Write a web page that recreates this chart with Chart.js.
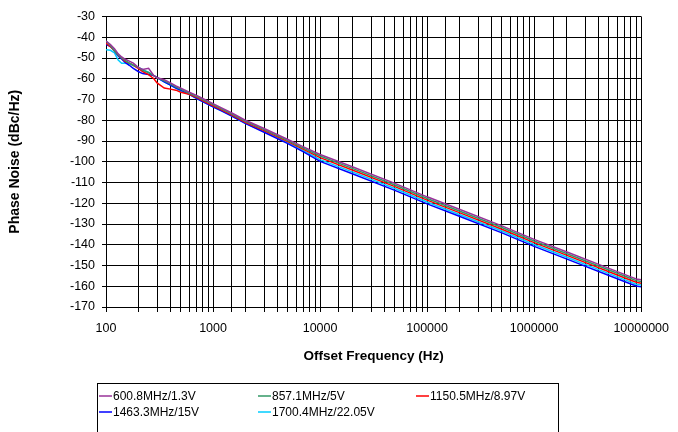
<!DOCTYPE html>
<html>
<head>
<meta charset="utf-8">
<script src="https://cdn.jsdelivr.net/npm/chart.js@4.4.1/dist/chart.umd.min.js"></script>
<style>
  html, body { margin: 0; padding: 0; background: #fff; }
  #wrap { width: 678px; height: 432px; }
</style>
</head>
<body>
<div id="wrap"><canvas id="pnChart" width="678" height="432"></canvas></div>
<script>
// offset frequency (Hz)
const freqs = [100, 110, 120, 130, 140, 150, 165, 180, 200, 220, 250, 280, 300, 350, 400, 450, 500, 600, 700, 800,
  1000, 1200, 1500, 2000, 3000, 5000, 7000, 10000, 20000, 50000, 100000, 200000, 500000,
  1000000, 2000000, 5000000, 8000000, 9000000, 10000000];

// phase noise (dBc/Hz)
const pn600 = [-41.8, -43.5, -45.5, -48, -49.5, -50.5, -51.5, -52.5, -54.5, -55.5, -55, -58.5, -59.5, -60.5, -62, -63.5, -64.5, -66.5, -68, -69.5,
  -72, -74, -76.5, -80, -84, -89.3, -92.8, -96.5, -102.4, -110.4, -116.9, -122.9, -130.9,
  -137.4, -143.4, -151.4, -155.5, -156.5, -156.9];
const pn857 = [-41.8, -44, -46.5, -48.5, -50, -51, -52.5, -53.5, -54.5, -56, -57, -58.5, -59.5, -61, -62.5, -64, -65, -67, -68.5, -70,
  -72.5, -74.5, -77, -80.5, -84.5, -89.8, -93.4, -97.2, -103.2, -111.2, -117.7, -123.7, -131.7,
  -138.2, -144.2, -152.2, -156.3, -157.3, -157.7];
const pn1150 = [-42.8, -44.5, -46.5, -48.5, -50, -51.5, -52.5, -53.5, -55, -56.5, -58, -60, -62, -64.5, -65, -65.5, -66.5, -67.5, -69, -70.5,
  -73, -75, -77.5, -81, -85, -90.3, -94, -98, -104, -112, -118.5, -124.5, -132.5,
  -139, -145, -153, -157.1, -158.1, -158.5];
const pn1463 = [-43.5, -44.5, -46.5, -49, -50.5, -52, -53.5, -55, -56.5, -57.5, -58, -58.5, -59.5, -61.5, -63, -64.5, -65.5, -67.5, -69.5, -71,
  -73.5, -75.5, -78, -81.5, -85.8, -91.3, -95.2, -99.8, -105.8, -113.8, -120.3, -126.3, -134.3,
  -140.8, -146.8, -154.8, -158.9, -159.9, -160.3];
const pn1700 = [-46, -46.3, -47.5, -51, -52.5, -52.5, -52.8, -53.5, -54.5, -55.5, -57, -58.5, -59.5, -61.5, -63, -64.5, -66, -67.5, -69.5, -71,
  -73.5, -75.5, -78, -81.5, -85.5, -90.8, -94.6, -99, -104.9, -112.9, -119.4, -125.4, -133.4,
  -139.9, -145.9, -153.9, -158, -159, -159.4];

const seriesLabels = ['600.8MHz/1.3V', '857.1MHz/5V', '1150.5MHz/8.97V', '1463.3MHz/15V', '1700.4MHz/22.05V'];
const seriesColors = ['#993399', '#339966', '#ff0000', '#0000ff', '#00ccff'];
const seriesValues = [pn600, pn857, pn1150, pn1463, pn1700];

const yMin = -170, yMax = -30, yStep = 10;
const xMin = 100, xMax = 10000000;

const FONT = "'Liberation Sans', Arial, sans-serif";

function toPoints(vals) {
  return freqs.map((f, i) => ({ x: f, y: vals[i] }));
}

// legend in a box below the chart, like the spreadsheet one
const boxLegend = {
  id: 'boxLegend',
  afterDraw(chart) {
    const ctx = chart.ctx;
    const cols = [99, 258, 416];
    const rows = [396, 412];
    ctx.save();
    ctx.strokeStyle = '#000';
    ctx.lineWidth = 1;
    ctx.strokeRect(97.5, 383.5, 461, 60);
    ctx.font = '12px ' + FONT;
    ctx.textBaseline = 'middle';
    ctx.fillStyle = '#000';
    chart.data.datasets.forEach((ds, i) => {
      const x = cols[i % 3];
      const y = rows[Math.floor(i / 3)];
      ctx.strokeStyle = ds.borderColor;
      ctx.lineWidth = 1.5;
      ctx.beginPath();
      ctx.moveTo(x, y);
      ctx.lineTo(x + 13, y);
      ctx.stroke();
      ctx.fillText(ds.label, x + 14, y + 0.5);
    });
    ctx.restore();
  }
};

new Chart(document.getElementById('pnChart').getContext('2d'), {
  type: 'line',
  data: {
    datasets: seriesValues.map((vals, i) => ({
      label: seriesLabels[i],
      data: toPoints(vals),
      borderColor: seriesColors[i],
      backgroundColor: seriesColors[i],
      borderWidth: 1.5,
      pointRadius: 0,
      tension: 0,
      fill: false
    }))
  },
  options: {
    responsive: false,
    animation: false,
    layout: { padding: { top: 16.5, right: 34, bottom: 65, left: 0 } },
    plugins: { legend: { display: false }, tooltip: { enabled: false } },
    scales: {
      x: {
        type: 'logarithmic',
        min: xMin,
        max: xMax,
        afterFit: s => { s.height = 60; },
        grid: { color: '#000', lineWidth: 1, tickLength: 5 },
        border: { color: '#000' },
        ticks: {
          autoSkip: false,
          maxRotation: 0,
          padding: 9,
          color: '#000',
          font: { family: FONT, size: 12.5 },
          callback: v => {
            const e = Math.log10(v);
            return Math.abs(e - Math.round(e)) < 1e-9 ? String(v) : '';
          }
        },
        title: {
          display: true,
          text: 'Offset Frequency (Hz)',
          color: '#000',
          font: { family: FONT, size: 13.5, weight: 'bold' },
          padding: { top: 0, bottom: 3 }
        }
      },
      y: {
        min: yMin,
        max: yMax,
        afterFit: s => { s.width = 106; },
        grid: { color: '#000', lineWidth: 1, tickLength: 4 },
        border: { color: '#000' },
        ticks: {
          stepSize: yStep,
          padding: 7,
          color: '#000',
          font: { family: FONT, size: 12.5 }
        },
        title: {
          display: true,
          text: 'Phase Noise (dBc/Hz)',
          color: '#000',
          font: { family: FONT, size: 14, weight: 'bold' },
          padding: { top: 7, bottom: 0 }
        }
      }
    }
  },
  plugins: [boxLegend]
});
</script>
</body>
</html>
